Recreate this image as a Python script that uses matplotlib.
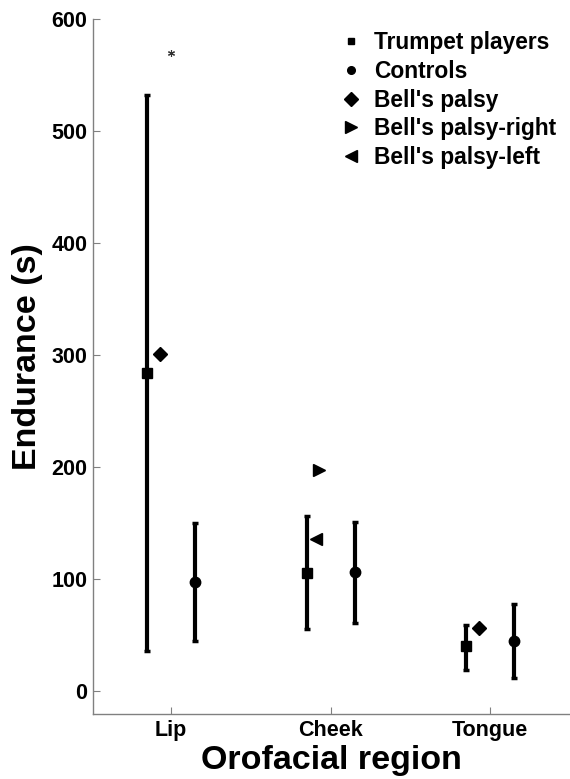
import numpy as np
import matplotlib
matplotlib.use("Agg")
import matplotlib.pyplot as plt
from matplotlib.lines import Line2D

plt.rcParams['font.family'] = ['Liberation Sans', 'DejaVu Sans']
plt.rcParams['font.weight'] = 'bold'

regions = ['Lip', 'Cheek', 'Tongue']
trumpet_mean = [284, 105, 40]
trumpet_low = [36, 55, 19]
trumpet_high = [532, 156, 59]
control_mean = [97, 106, 45]
control_low = [45, 61, 12]
control_high = [150, 151, 78]
bells_region = ['Lip', 'Tongue']
bells_value = [301, 56.5]
bells_right_region = ['Cheek']
bells_right_value = [197]
bells_left_region = ['Cheek']
bells_left_value = [136]
star_region = ['Lip']
star_value = [570]

x = np.arange(1, len(regions) + 1)
pos = dict(zip(regions, x))

fig = plt.figure(figsize=(5.7, 7.79), dpi=100)
ax = fig.add_axes([0.163, 0.0834, 0.837, 0.8922])

def err(m, lo, hi):
    m = np.array(m); lo = np.array(lo); hi = np.array(hi)
    return [m - lo, hi - m]

ax.errorbar(x - 0.15, trumpet_mean, yerr=err(trumpet_mean, trumpet_low, trumpet_high),
            fmt='s', color='black', ms=7, elinewidth=3, capsize=2.5, capthick=2.5)
ax.errorbar(x + 0.15, control_mean, yerr=err(control_mean, control_low, control_high),
            fmt='o', color='black', ms=7.5, elinewidth=3, capsize=2.5, capthick=2.5)
ax.plot([pos[r] - 0.07 for r in bells_region], bells_value, 'D', color='black', ms=7, ls='none')
ax.plot([pos[r] - 0.07 for r in bells_right_region], bells_right_value, '>', color='black', ms=9, ls='none')
ax.plot([pos[r] - 0.09 for r in bells_left_region], bells_left_value, '<', color='black', ms=9, ls='none')
ax.plot([pos[r] for r in star_region], star_value, marker=(6, 2, 0), color='#333333',
        ms=5, mew=0.8, ls='none')

ax.set_xlim(0.51, 3.5)
ax.set_ylim(-20.5, 600)
ax.set_xticks(x)
ax.set_xticklabels(regions)
ax.set_yticks(np.arange(0, 601, 100))
ax.tick_params(direction='in', length=5, color='gray', labelsize=15.5, pad=4)
for s in ['top', 'right']:
    ax.spines[s].set_visible(False)
for s in ['left', 'bottom']:
    ax.spines[s].set_color('gray')
    ax.spines[s].set_linewidth(1)

ax.set_ylabel('Endurance (s)', fontsize=24.5, fontweight='bold')
ax.yaxis.set_label_coords(-0.105, 0.515)
ax.set_xlabel('Orofacial region', fontsize=24.5, fontweight='bold')
ax.xaxis.set_label_coords(0.5, -0.045)

handles = [
    Line2D([], [], marker='s', color='black', ls='none', ms=5),
    Line2D([], [], marker='o', color='black', ls='none', ms=5.5),
    Line2D([], [], marker='D', color='black', ls='none', ms=7),
    Line2D([], [], marker='>', color='black', ls='none', ms=8.5),
    Line2D([], [], marker='<', color='black', ls='none', ms=8.5),
]
labels = ['Trumpet players', 'Controls', "Bell's palsy", "Bell's palsy-right", "Bell's palsy-left"]
ax.legend(handles, labels, loc='upper left', bbox_to_anchor=(0.600, 0.960),
          bbox_transform=fig.transFigure, frameon=False, fontsize=16.4,
          handlelength=0.8, handletextpad=0.6, labelspacing=0.25, borderaxespad=0,
          borderpad=0)

fig.savefig('out.png', dpi=100)
